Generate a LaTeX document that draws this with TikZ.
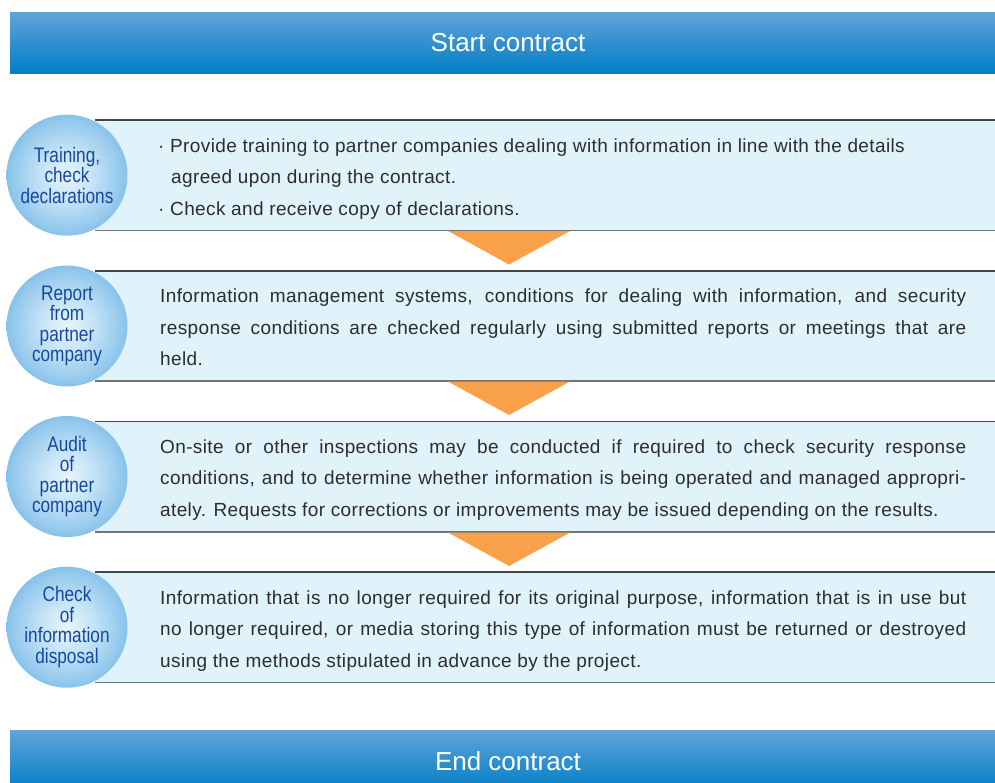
\documentclass[tikz,border=0pt]{standalone}
\usepackage{fontspec}
\setmainfont{Liberation Sans}
\newfontfamily\circfont[FakeStretch=0.82]{Liberation Sans}
\newfontfamily\bodyfont[LetterSpace=2]{Liberation Sans}
\definecolor{barTop}{RGB}{98,163,216}
\definecolor{barBot}{RGB}{0,126,198}
\definecolor{boxFill}{RGB}{224,242,250}
\definecolor{lineTop}{RGB}{70,70,70}
\definecolor{lineBot}{RGB}{115,115,115}
\definecolor{arrowOr}{RGB}{248,161,74}
\definecolor{circText}{RGB}{24,72,158}
\definecolor{bodyText}{RGB}{45,45,45}
\definecolor{ballC}{RGB}{232,244,251}
\definecolor{ballA}{RGB}{200,229,247}
\definecolor{ballM}{RGB}{150,202,237}
\definecolor{ballB}{RGB}{90,170,225}
\definecolor{ballE}{RGB}{45,143,210}
\pgfdeclareradialshading{ball}{\pgfpoint{0bp}{0bp}}{color(0bp)=(ballC); color(10bp)=(ballA); color(22bp)=(ballM); color(34bp)=(ballB); color(44bp)=(ballE); color(50bp)=(ballE)}
\newcommand\jl[1]{\hbox to 806pt{#1}}
\tikzset{
  bar/.style={top color=barTop, bottom color=barBot, draw=none},
  bartext/.style={text=white, font=\fontsize{26}{30}\selectfont, inner sep=0pt},
  boxfill/.style={fill=boxFill, draw=none},
  topline/.style={draw=lineTop, line width=1.6pt},
  botline/.style={draw=lineBot, line width=1.8pt},
  ballshape/.style={circle, minimum size=121pt, inner sep=0pt, shading=ball, draw=none},
  balltext/.style={text=circText, align=center, font=\circfont\fontsize{21}{20.5}\selectfont, inner sep=0pt},
  body/.style={text=bodyText, align=left, font=\bodyfont\fontsize{19}{31.5}\selectfont, inner sep=0pt, anchor=base west}
}
\tikzset{downarrow/.style={fill=arrowOr, draw=none}}
\begin{document}
\begin{tikzpicture}[x=1pt, y=-1pt]
\useasboundingbox (0,0) rectangle (995,782);
\begin{scope}
\clip (0,0) rectangle (995,782);
% bars
\shade[bar] (10,12) rectangle (995,73);
\node[bartext] (start) at (508,43) {Start contract};
\shade[bar] (10,730) rectangle (995,791);
\node[bartext] (end) at (508,761) {End contract};

% boxes
\foreach \t in {120, 270.7, 421.3, 572}{
  \fill[boxfill] (95,\t) rectangle (995,\t+110.5);
  \draw[topline] (95,\t) -- (995,\t);
  \draw[botline] (95,\t+110.5) -- (995,\t+110.5);
}

% arrows
\foreach \t in {231, 381.5, 532.5}{
  \fill[downarrow] (448,\t) -- (570,\t) -- (509,\t+33.5) -- cycle;
}

% circles
\node[ballshape] (c1) at (67,175.2) {};
\node[ballshape] (c2) at (67,326) {};
\node[ballshape] (c3) at (67,476.5) {};
\node[ballshape] (c4) at (67,627.2) {};
\node[balltext] (l1) at (c1) {Training,\\check\\declarations};
\node[balltext] (l2) at (c2) {Report\\from\\partner\\company};
\node[balltext] (l3) at (c3) {Audit\\of\\partner\\company};
\node[balltext] (l4) at (c4) {Check\\of\\information\\disposal};

% texts (anchor = baseline of last line)
\node[body] (t1) at (158,215) {\textperiodcentered\ Provide training to partner companies dealing with information in line with the details\\\hspace*{13pt}agreed upon during the contract.\\\textperiodcentered\ Check and receive copy of declarations.};
\node[body] (t2) at (160,365.5) {\jl{Information management systems, conditions for dealing with information, and security}\\\jl{response conditions are checked regularly using submitted reports or meetings that are}\\held.};
\node[body] (t3) at (160,516) {\jl{On-site or other inspections may be conducted if required to check security response}\\\jl{conditions, and to determine whether information is being operated and managed appropri-}\\ately. Requests for corrections or improvements may be issued depending on the results.};
\node[body] (t4) at (160,667) {\jl{Information that is no longer required for its original purpose, information that is in use but}\\\jl{no longer required, or media storing this type of information must be returned or destroyed}\\using the methods stipulated in advance by the project.};
\end{scope}
\end{tikzpicture}
\end{document}
